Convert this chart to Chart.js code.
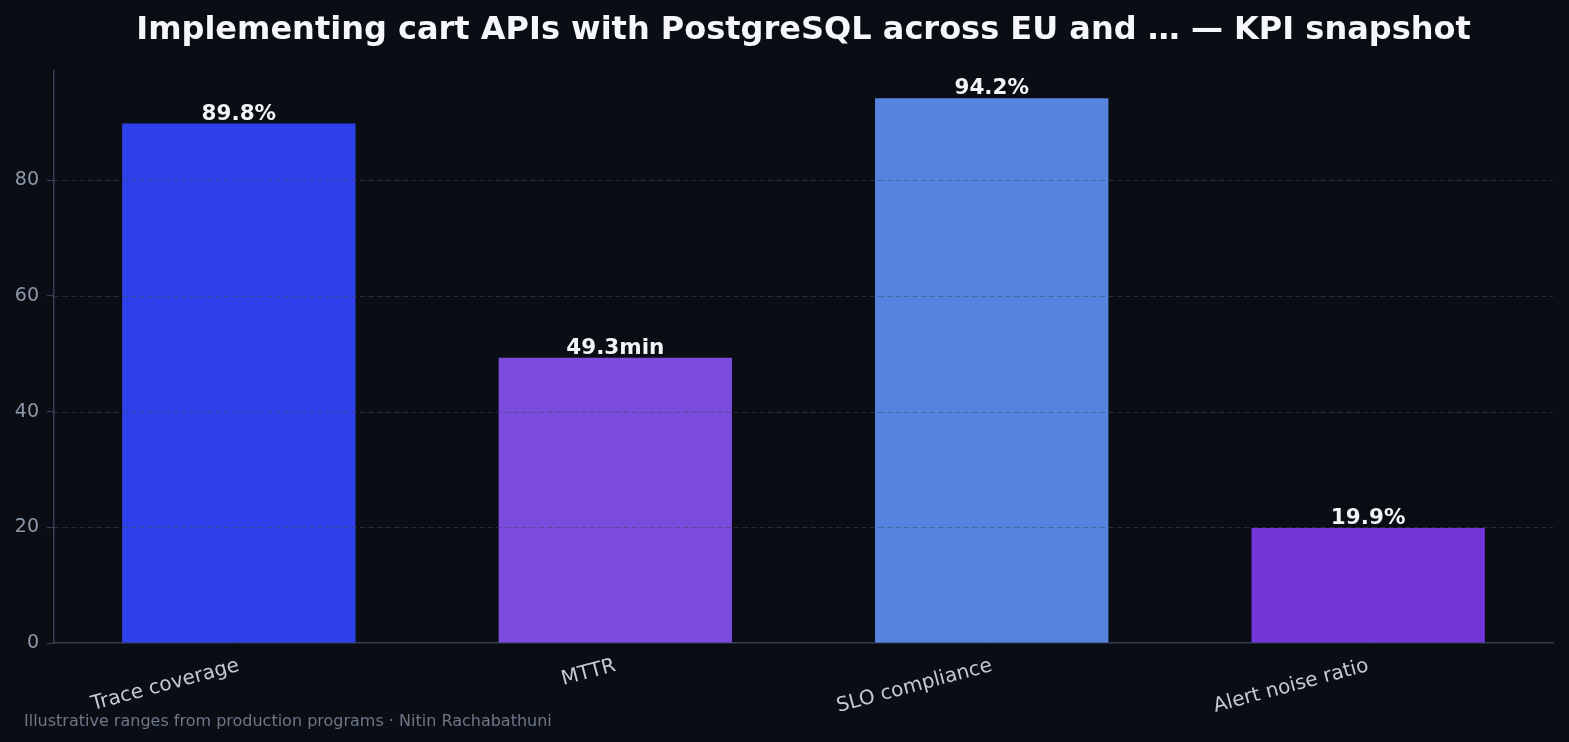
<!DOCTYPE html>
<html>
<head>
<meta charset="utf-8">
<script src="https://cdn.jsdelivr.net/npm/chart.js@4.4.1/dist/chart.umd.min.js"></script>
<style>
  html, body { margin: 0; padding: 0; background: #0a0d14; }
  #wrap { width: 1569px; height: 742px; position: relative; }
</style>
</head>
<body>
<div id="wrap"><canvas id="kpiChart"></canvas></div>
<script>
// Données du graphique
const categories = ['Trace coverage', 'MTTR', 'SLO compliance', 'Alert noise ratio'];
const values = [89.8, 49.3, 94.2, 19.9];
const units = ['%', 'min', '%', '%'];
const barColors = ['#2e40ea', '#7b4bdb', '#5684df', '#7336d8'];
const yTicks = [0, 20, 40, 60, 80];

const titleText = 'Implementing cart APIs with PostgreSQL across EU and … — KPI snapshot';
const footerText = 'Illustrative ranges from production programs · Nitin Rachabathuni';

const FONT = '"DejaVu Sans", "Liberation Sans", sans-serif';
const BG = '#0a0d14';
const SPINE = '#334055';

// Fond sombre
const bgPlugin = {
    id: 'bg',
    beforeDraw(chart) {
        const ctx = chart.ctx;
        ctx.save();
        ctx.fillStyle = BG;
        ctx.fillRect(0, 0, chart.width, chart.height);
        ctx.restore();
    }
};

// Grille pointillée au-dessus des barres + étiquettes de valeurs
const overlayPlugin = {
    id: 'overlay',
    afterDatasetsDraw(chart) {
        const ctx = chart.ctx;
        const area = chart.chartArea;
        const y = chart.scales.y;
        ctx.save();
        ctx.strokeStyle = 'rgba(60, 75, 100, 0.5)';
        ctx.lineWidth = 1;
        ctx.setLineDash([5.5, 3]);
        yTicks.forEach(v => {
            if (v === 0) return;
            const py = Math.round(y.getPixelForValue(v)) + 0.5;
            ctx.beginPath();
            ctx.moveTo(area.left, py);
            ctx.lineTo(area.right, py);
            ctx.stroke();
        });
        ctx.setLineDash([]);

        const meta = chart.getDatasetMeta(0);
        ctx.fillStyle = '#f2f4f7';
        ctx.font = 'bold 21.5px ' + FONT;
        ctx.textAlign = 'center';
        ctx.textBaseline = 'alphabetic';
        meta.data.forEach((bar, i) => {
            ctx.fillText(values[i].toFixed(1) + units[i], bar.x, bar.y - 4);
        });
        ctx.restore();
    },
    afterDraw(chart) {
        const ctx = chart.ctx;
        ctx.save();
        ctx.fillStyle = '#6c778a';
        ctx.font = '16px ' + FONT;
        ctx.textAlign = 'left';
        ctx.textBaseline = 'alphabetic';
        ctx.fillText(footerText, 24, 726);
        ctx.restore();
    }
};

const ctx = document.getElementById('kpiChart').getContext('2d');
const kpiChart = new Chart(ctx, {
    type: 'bar',
    data: {
        datasets: [{
            data: values.map((v, i) => ({ x: i, y: v })),
            backgroundColor: barColors,
            borderWidth: 0,
            barPercentage: 0.62,
            categoryPercentage: 1
        }]
    },
    options: {
        responsive: true,
        maintainAspectRatio: false,
        animation: false,
        layout: { padding: { left: 0, right: 16, top: 0, bottom: 0 } },
        plugins: {
            legend: { display: false },
            tooltip: { enabled: false },
            title: {
                display: true,
                fullSize: false,
                text: titleText,
                color: '#f5f7fa',
                font: { family: FONT, size: 32, weight: 'bold' },
                padding: { top: 11, bottom: 21 }
            }
        },
        scales: {
            x: {
                type: 'linear',
                min: -0.491,
                max: 3.491,
                offset: false,
                z: 1,
                afterBuildTicks: s => { s.ticks = categories.map((c, i) => ({ value: i })); },
                afterFit: s => { s.height = 99; },
                ticks: {
                    callback: v => categories[v],
                    color: '#c3cad6',
                    font: { family: FONT, size: 20 },
                    minRotation: 15,
                    maxRotation: 15,
                    autoSkip: false,
                    padding: 5
                },
                grid: { offset: false, drawOnChartArea: false, tickLength: 6, tickColor: '#05070a', tickWidth: 1 },
                border: { color: SPINE, width: 1.5 }
            },
            y: {
                min: 0,
                max: 99,
                z: 1,
                afterBuildTicks: s => { s.ticks = yTicks.map(v => ({ value: v })); },
                afterFit: s => { s.width = 54; },
                ticks: {
                    color: '#8d99ab',
                    font: { family: FONT, size: 19 },
                    padding: 8
                },
                grid: { drawOnChartArea: false, tickLength: 7, tickColor: SPINE, tickWidth: 1.2 },
                border: { color: SPINE, width: 1.5 }
            }
        }
    },
    plugins: [bgPlugin, overlayPlugin]
});
</script>
</body>
</html>
